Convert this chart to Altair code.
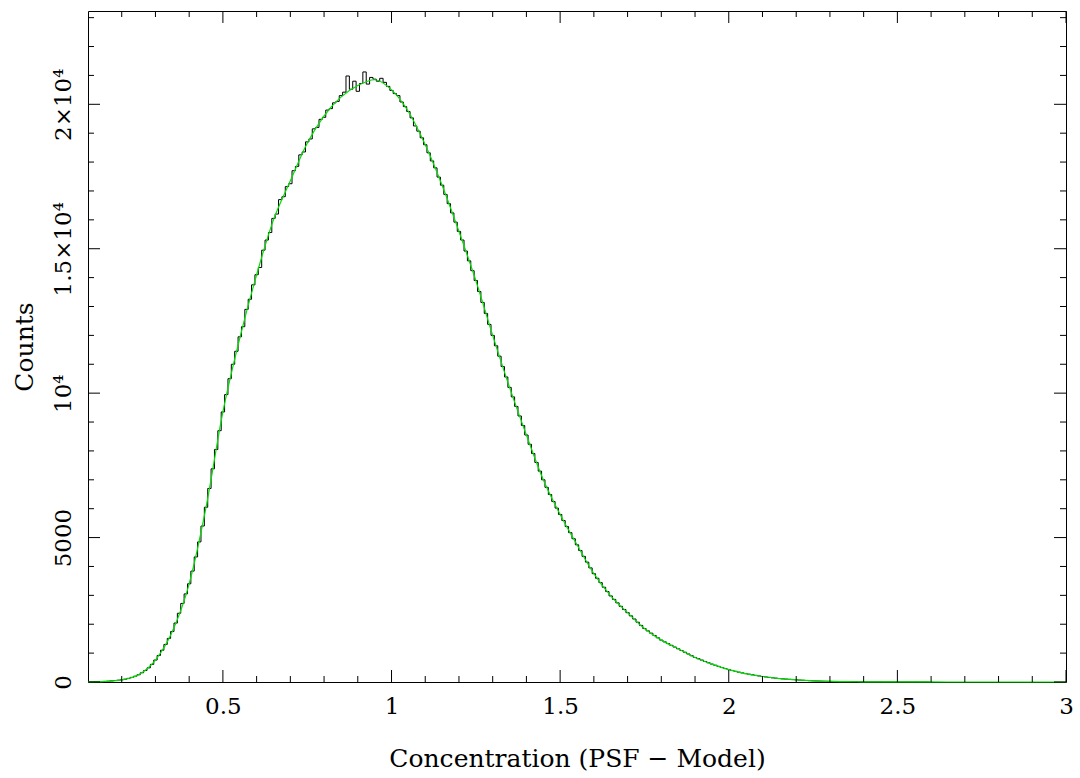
import altair as alt
import pandas as pd
import numpy as np

# ---- data ----
bin_first_center = 0.10
bin_width = 0.01
hist_counts = [
    2, 4, 6, 9, 14, 20, 28, 38, 50, 62,
    75, 95, 125, 160, 200, 250, 320, 400, 490, 610,
    760, 920, 1100, 1300, 1510, 1750, 2040, 2380, 2720, 3050,
    3400, 3840, 4330, 4850, 5400, 6050, 6700, 7380, 8050, 8700,
    9350, 9950, 10500, 11000, 11450, 11950, 12300, 12900, 13250, 13750,
    14100, 14350, 14950, 15300, 15560, 16050, 16200, 16700, 16800, 17150,
    17250, 17700, 17850, 18250, 18350, 18700, 18800, 19150, 19200, 19480,
    19550, 19800, 19850, 20050, 20100, 20300, 20420, 20980, 20520, 20800,
    20450, 20720, 21120, 20700, 20930, 20870, 20800, 20900, 20760, 20620,
    20480, 20370, 20300, 20080, 19920, 19750, 19530, 19250, 19070, 18840,
    18600, 18320, 18040, 17800, 17480, 17200, 16880, 16560, 16240, 15920,
    15600, 15300, 14920, 14580, 14240, 13900, 13520, 13140, 12760, 12380,
    12000, 11640, 11280, 10920, 10560, 10200, 9870, 9540, 9210, 8880,
    8550, 8230, 7910, 7600, 7300, 7000, 6740, 6490, 6250, 6020,
    5800, 5590, 5380, 5170, 4960, 4750, 4550, 4350, 4150, 3950,
    3750, 3590, 3440, 3280, 3130, 2980, 2860, 2740, 2620, 2510,
    2400, 2290, 2180, 2070, 1960, 1850, 1770, 1690, 1610, 1530,
    1450, 1390, 1330, 1270, 1210, 1150, 1090, 1030, 970, 910,
    850, 805, 760, 710, 665, 620, 580, 540, 500, 465,
    430, 400, 370, 340, 315, 290, 270, 250, 230, 210,
    190, 175, 160, 145, 132, 120, 110, 100, 92, 83,
    75, 67, 60, 52, 46, 40, 36, 32, 28, 25,
    22, 20, 18, 15, 13, 12, 11, 9, 8, 7,
    6, 6, 5, 5, 4, 4, 3, 3, 3, 2,
    2, 2, 2, 1, 1, 1, 1, 1, 1, 1,
]

fit_x = [0.10, 0.15, 0.20, 0.25, 0.30, 0.35, 0.40, 0.45, 0.50, 0.55,
         0.60, 0.65, 0.70, 0.75, 0.80, 0.85, 0.90, 0.95, 1.00, 1.05,
         1.10, 1.15, 1.20, 1.25, 1.30, 1.35, 1.40, 1.45, 1.50, 1.55,
         1.60, 1.65, 1.70, 1.75, 1.80, 1.85, 1.90, 1.95, 2.00, 2.05,
         2.10, 2.15, 2.20, 2.25, 2.30, 2.35, 2.40, 2.45, 2.50, 2.60,
         2.70, 3.00]
fit_y = [3, 20, 75, 250, 760, 1750, 3400, 6050, 9350, 11900,
         14100, 16000, 17350, 18650, 19600, 20250, 20650, 20850, 20500, 19750,
         18600, 17200, 15600, 13900, 12000, 10200, 8550, 7000, 5800, 4750,
         3750, 2980, 2400, 1850, 1450, 1150, 850, 620, 430, 290,
         190, 120, 75, 40, 22, 12, 6, 4, 2, 1,
         0, 0]

x_major = [0.5, 1.0, 1.5, 2.0, 2.5, 3.0]
y_major = [0, 5000, 10000, 15000, 20000]
x_minor = [round(v, 1) for v in np.arange(0.2, 3.0, 0.1) if round(v, 1) not in x_major]
y_minor = [v for v in range(1000, 24000, 1000) if v not in y_major and v < 23230]

X_DOMAIN = [0.1, 3.0]
Y_DOMAIN = [0, 23230]

W, H = 978, 671
FONT = "DejaVu Serif"

# ---- tables ----
edges = [round(bin_first_center - bin_width / 2 + bin_width * i, 3) for i in range(len(hist_counts))]
hist_df = pd.DataFrame({"x": edges + [round(edges[-1] + bin_width, 3)],
                        "y": hist_counts + [hist_counts[-1]]})
fit_df = pd.DataFrame({"x": fit_x, "y": fit_y})

xs = alt.Scale(domain=X_DOMAIN, nice=False, zero=False)
ys = alt.Scale(domain=Y_DOMAIN, nice=False, zero=False)

y_label_expr = ("datum.value == 0 ? '0' : datum.value == 5000 ? '5000' : "
                "datum.value == 10000 ? '10⁴' : datum.value == 15000 ? '1.5×10⁴' : '2×10⁴'")

hist = alt.Chart(hist_df).mark_line(
    interpolate="step-after", color="black", strokeWidth=1, clip=True
).encode(
    x=alt.X("x:Q", scale=xs, axis=alt.Axis(
        values=x_major, format="~g", labelFlush=False, labelOverlap=False,
        ticks=False, tickSize=0, domain=False, grid=False,
        labelPadding=13, labelBaseline="top", labelFont=FONT, labelFontSize=23,
        labelColor="black",
        title="Concentration (PSF − Model)", titleFont=FONT, titleFontSize=25,
        titleFontWeight="normal", titleColor="black",
        titleX=W / 2, titleY=84, titleAlign="center", titleBaseline="alphabetic")),
    y=alt.Y("y:Q", scale=ys, axis=alt.Axis(
        values=y_major, labelExpr=y_label_expr, labelFlush=False, labelOverlap=False,
        ticks=False, tickSize=0, domain=False, grid=False,
        labelAngle=270, labelAlign="center", labelBaseline="alphabetic",
        labelPadding=18, labelFont=FONT, labelFontSize=23, labelColor="black",
        title="Counts", titleFont=FONT, titleFontSize=25, titleFontWeight="normal",
        titleColor="black", titleAngle=270, titleX=-56, titleY=H / 2,
        titleAlign="center", titleBaseline="alphabetic")),
)

fit = alt.Chart(fit_df).mark_line(
    interpolate="monotone", color="#00e000", strokeWidth=1.2
).encode(x=alt.X("x:Q", scale=xs), y=alt.Y("y:Q", scale=ys))


def xticks(vals, length):
    d = pd.DataFrame({"x": vals})
    bottom = alt.Chart(d).mark_rule(color="black", strokeWidth=1).encode(
        x=alt.X("x:Q", scale=xs), y=alt.value(H), y2=alt.value(H - length))
    top = alt.Chart(d).mark_rule(color="black", strokeWidth=1).encode(
        x=alt.X("x:Q", scale=xs), y=alt.value(0), y2=alt.value(length))
    return [bottom, top]


def yticks(vals, length):
    d = pd.DataFrame({"y": vals})
    left = alt.Chart(d).mark_rule(color="black", strokeWidth=1).encode(
        y=alt.Y("y:Q", scale=ys), x=alt.value(0), x2=alt.value(length))
    right = alt.Chart(d).mark_rule(color="black", strokeWidth=1).encode(
        y=alt.Y("y:Q", scale=ys), x=alt.value(W), x2=alt.value(W - length))
    return [left, right]


layers = [hist, fit] + xticks(x_major, 12) + xticks(x_minor, 6) \
    + yticks(y_major, 12) + yticks(y_minor, 6)

chart = alt.layer(*layers).properties(
    width=W, height=H,
    autosize=alt.AutoSizeParams(type="none"),
    padding={"left": 88, "top": 11, "right": 14, "bottom": 96},
    background="white",
).configure_view(stroke="black", strokeWidth=1)

chart.save("out.html", embed_options={"renderer": "svg", "actions": False})
